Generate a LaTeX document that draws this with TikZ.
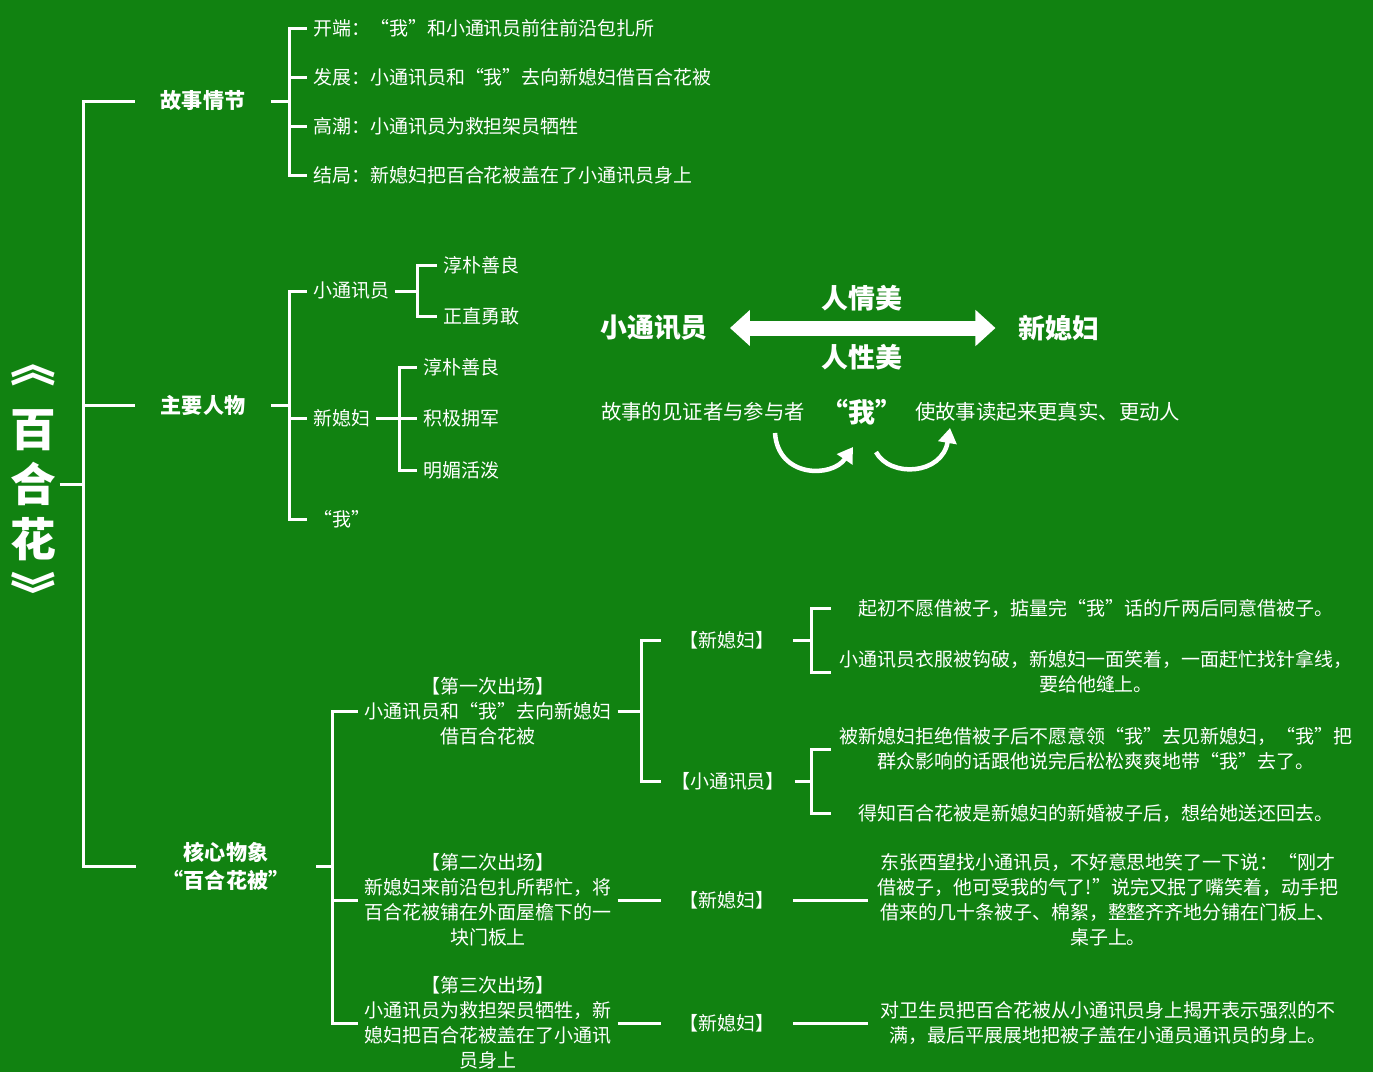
\documentclass[tikz,border=0pt]{standalone}
\usepackage{fontspec}
\setmainfont{Noto Sans CJK SC}
\usetikzlibrary{arrows.meta,positioning}
\definecolor{boardgreen}{RGB}{17,130,17}

\begin{document}
\begin{tikzpicture}[x=0.02cm,y=-0.02cm]
        % Define styles for nodes and lines
        \tikzstyle{title} = [text=white, font=\fontsize{26}{31.2}\selectfont\bfseries, align=center, inner sep=2pt]
        \tikzstyle{head} = [text=white, font=\fontsize{12}{16}\selectfont\bfseries, align=center, minimum width=2.7cm]
        \tikzstyle{item} = [text=white, font=\fontsize{10.8}{14.2}\selectfont, anchor=west]
        \tikzstyle{midtext} = [text=white, font=\fontsize{11.6}{14.2}\selectfont]
        \tikzstyle{big} = [text=white, font=\fontsize{15.3}{18}\selectfont\bfseries]
        \tikzstyle{scene} = [text=white, font=\fontsize{10.8}{14.2}\selectfont, align=center]
        \tikzstyle{role} = [text=white, font=\fontsize{10.8}{14.2}\selectfont, inner xsep=0.36cm]
        \tikzstyle{leaf} = [text=white, font=\fontsize{10.8}{14.2}\selectfont, align=center, minimum width=10.6cm]
        \tikzstyle{branch} = [draw=white, line width=0.06cm]
        \tikzstyle{bigarrow} = [draw=white, line width=0.3cm, <->, >={Triangle[width=0.7cm,length=0.4cm]}, shorten <=0.32cm, shorten >=0.34cm]
        \tikzstyle{swoosh} = [draw=white, line width=0.09cm, ->, >={Triangle[width=0.36cm,length=0.3cm]}]

        % Board
        \fill[boardgreen] (0,0) rectangle (1373,1072);

        % Root and first level
        \node (root) [title] at (33,488) {︽\\[5.7pt]百\\合\\花\\︾};
        \coordinate (trunk) at (83,484);
        \node (plot) [head] at (203,101) {故事情节};
        \node (people) [head] at (203,405) {主要人物};
        \node (core) [head, minimum width=3.6cm] at (226,866) {核心物象\\“百合花被”};

        % Story
        \coordinate (plotfork) at (289,101);
        \node (kaiduan) [item] at (307,28) {开端：“我”和小通讯员前往前沿包扎所};
        \node (fazhan) [item] at (307,77) {发展：小通讯员和“我”去向新媳妇借百合花被};
        \node (gaochao) [item] at (307,126) {高潮：小通讯员为救担架员牺牲};
        \node (jieju) [item] at (307,175) {结局：新媳妇把百合花被盖在了小通讯员身上};

        % Characters
        \coordinate (peoplefork) at (289,405);
        \node (tongxun) [item] at (307,291) {小通讯员};
        \node (xifu) [item] at (307,418) {新媳妇};
        \node (me) [item] at (307,519) {“我”};
        \coordinate (txfork) at (417,291);
        \node (tx1) [item] at (437,265) {淳朴善良};
        \node (tx2) [item] at (437,316) {正直勇敢};
        \coordinate (xffork) at (399,418);
        \node (xf1) [item] at (417,367) {淳朴善良};
        \node (xf2) [item] at (417,418) {积极拥军};
        \node (xf3) [item] at (417,470) {明媚活泼};

        % Middle part
        \node (nameA) [big] at (654,328) {小通讯员};
        \node (nameB) [big] at (1059,328) {新媳妇};
        \node (renqing) [big] at (862,298) {人情美};
        \node (renxing) [big] at (862,357) {人性美};
        \node (witness) [midtext] at (703,412) {故事的见证者与参与者};
        \node (wo) [big] at (862,412) {“我”};
        \node (effect) [midtext, anchor=west] at (909,412) {使故事读起来更真实、更动人};
        \coordinate (swA) at (775,433);
        \coordinate (swB) at (853,447);
        \coordinate (swC) at (876,452);
        \coordinate (swD) at (950,428);

        % Core image
        \coordinate (corefork) at (332,866);
        \node (first) [scene] at (488,711) {【第一次出场】\\小通讯员和“我”去向新媳妇\\借百合花被};
        \node (second) [scene] at (488,900) {【第二次出场】\\新媳妇来前沿包扎所帮忙，将\\百合花被铺在外面屋檐下的一\\块门板上};
        \node (third) [scene] at (488,1023) {【第三次出场】\\小通讯员为救担架员牺牲，新\\媳妇把百合花被盖在了小通讯\\员身上};
        \coordinate (firstfork) at (641,711);
        \node (f1xf) [role] at (727,640) {【新媳妇】};
        \node (f1tx) [role, inner xsep=0.2cm] at (728,781) {【小通讯员】};
        \node (f2xf) [role] at (727,900) {【新媳妇】};
        \node (f3xf) [role] at (727,1023) {【新媳妇】};
        \coordinate (xfleaf) at (811,640);
        \coordinate (txleaf) at (811,781);
        \node (l1) [leaf] at (1096,608) {起初不愿借被子，掂量完“我”话的斤两后同意借被子。};
        \node (l2) [leaf] at (1096,672) {小通讯员衣服被钩破，新媳妇一面笑着，一面赶忙找针拿线，\\要给他缝上。};
        \node (l3) [leaf] at (1096,749) {被新媳妇拒绝借被子后不愿意领“我”去见新媳妇，“我”把\\群众影响的话跟他说完后松松爽爽地带“我”去了。};
        \node (l4) [leaf] at (1096,813) {得知百合花被是新媳妇的新婚被子后，想给她送还回去。};
        \node (l5) [leaf, minimum width=9.6cm] at (1108,900) {东张西望找小通讯员，不好意思地笑了一下说：“刚才\\借被子，他可受我的气了!”说完又抿了嘴笑着，动手把\\借来的几十条被子、棉絮，整整齐齐地分铺在门板上、\\桌子上。};
        \node (l6) [leaf, minimum width=9.6cm] at (1108,1023) {对卫生员把百合花被从小通讯员身上揭开表示强烈的不\\满，最后平展展地把被子盖在小通员通讯员的身上。};

        % Lines
        \draw [branch] (root.east |- trunk) -- (trunk);
        \draw [branch] (trunk) |- (plot.west);
        \draw [branch] (trunk) |- (people.west);
        \draw [branch] (trunk) |- (core.west);

        \draw [branch] (plot.east) -- (plotfork);
        \draw [branch] (plotfork) |- (kaiduan.west);
        \draw [branch] (plotfork) |- (fazhan.west);
        \draw [branch] (plotfork) |- (gaochao.west);
        \draw [branch] (plotfork) |- (jieju.west);

        \draw [branch] (people.east) -- (peoplefork);
        \draw [branch] (peoplefork) |- (tongxun.west);
        \draw [branch] (peoplefork) |- (xifu.west);
        \draw [branch] (peoplefork) |- (me.west);
        \draw [branch] (tongxun.east) -- (txfork);
        \draw [branch] (txfork) |- (tx1.west);
        \draw [branch] (txfork) |- (tx2.west);
        \draw [branch] (xifu.east) -- (xffork);
        \draw [branch] (xffork) |- (xf1.west);
        \draw [branch] (xffork) -- (xf2.west);
        \draw [branch] (xffork) |- (xf3.west);

        \draw [branch] (core.east) -- (corefork);
        \draw [branch] (corefork) |- (first.west);
        \draw [branch] (corefork) |- (second.west);
        \draw [branch] (corefork) |- (third.west);
        \draw [branch] (first.east) -- (firstfork);
        \draw [branch] (firstfork) |- (f1xf.west);
        \draw [branch] (firstfork) |- (f1tx.west);
        \draw [branch] (f1xf.east) -- (xfleaf);
        \draw [branch] (xfleaf) |- (l1.west);
        \draw [branch] (xfleaf) |- (l2.west);
        \draw [branch] (f1tx.east) -- (txleaf);
        \draw [branch] (txleaf) |- (l3.west);
        \draw [branch] (txleaf) |- (l4.west);
        \draw [branch] (second.east) -- (f2xf.west);
        \draw [branch] (f2xf.east) -- (l5.west);
        \draw [branch] (third.east) -- (f3xf.west);
        \draw [branch] (f3xf.east) -- (l6.west);

        % Arrows
        \draw [bigarrow] (nameA) -- (nameB);
        \draw [swoosh] (swA) .. controls (778,478) and (832,478) .. (swB);
        \draw [swoosh] (swC) .. controls (890,478) and (942,475) .. (swD);
    \end{tikzpicture}
\end{document}
